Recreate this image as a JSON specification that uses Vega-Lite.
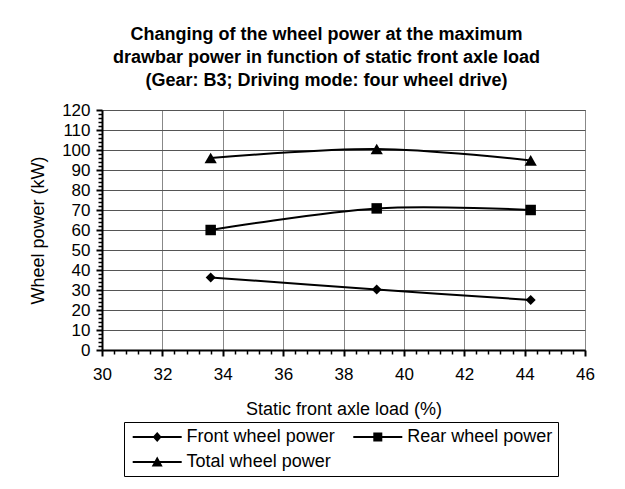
{
  "$schema": "https://vega.github.io/schema/vega-lite/v6.json",
  "width": 483,
  "height": 240,
  "autosize": "none",
  "padding": {"left": 102, "top": 110, "right": 40, "bottom": 139},
  "background": "white",
  "title": {
    "text": ["Changing of the wheel power at the maximum", "drawbar power in function of static front axle load", "(Gear: B3; Driving mode: four wheel drive)"],
    "font": "Liberation Sans",
    "fontSize": 18,
    "fontWeight": "bold",
    "lineHeight": 23,
    "color": "black",
    "anchor": "middle",
    "frame": "group",
    "dx": -17,
    "offset": 11
  },
  "config": {
    "font": "Liberation Sans",
    "view": {"stroke": "#444", "strokeWidth": 1},
    "axis": {"labelColor": "black", "titleColor": "black", "titleFontWeight": "normal", "labelFont": "Liberation Sans", "titleFont": "Liberation Sans"}
  },
  "data": {
    "values": [
      {"series": "Front wheel power", "load": 33.6, "power": 36.3},
      {"series": "Front wheel power", "load": 39.1, "power": 30.2},
      {"series": "Front wheel power", "load": 44.2, "power": 25.0},
      {"series": "Rear wheel power", "load": 33.6, "power": 60.0},
      {"series": "Rear wheel power", "load": 39.1, "power": 70.8},
      {"series": "Rear wheel power", "load": 44.2, "power": 70.0},
      {"series": "Total wheel power", "load": 33.6, "power": 96.0},
      {"series": "Total wheel power", "load": 39.1, "power": 100.5},
      {"series": "Total wheel power", "load": 44.2, "power": 94.8}
    ]
  },
  "encoding": {
    "x": {
      "field": "load",
      "type": "quantitative",
      "scale": {"domain": [30, 46], "nice": false, "zero": false},
      "axis": {
        "title": "Static front axle load (%)",
        "titleFontSize": 18,
        "titlePadding": 18,
        "values": [30, 30.4, 30.8, 31.2, 31.6, 32, 32.4, 32.8, 33.2, 33.6, 34, 34.4, 34.8, 35.2, 35.6, 36, 36.4, 36.8, 37.2, 37.6, 38, 38.4, 38.8, 39.2, 39.6, 40, 40.4, 40.8, 41.2, 41.6, 42, 42.4, 42.8, 43.2, 43.6, 44, 44.4, 44.8, 45.2, 45.6, 46],
        "format": ".0f",
        "labelExpr": "abs(datum.value - round(datum.value/2)*2) < 0.01 ? datum.label : ''",
        "labelOverlap": false,
        "labelFlush": false,
        "labelFontSize": 17,
        "labelPadding": 10,
        "domainColor": "black",
        "domainWidth": 2,
        "tickColor": "black",
        "tickWidth": {"condition": {"test": "abs(datum.value - round(datum.value/2)*2) < 0.01", "value": 2}, "value": 1.5},
        "tickSize": {"condition": {"test": "abs(datum.value - round(datum.value/2)*2) < 0.01", "value": 6}, "value": 4},
        "grid": true,
        "gridColor": "#888",
        "gridWidth": 1,
        "gridOpacity": {"condition": {"test": "abs(datum.value - round(datum.value/2)*2) < 0.01", "value": 1}, "value": 0}
      }
    },
    "y": {
      "field": "power",
      "type": "quantitative",
      "scale": {"domain": [0, 120], "nice": false},
      "axis": {
        "title": "Wheel power (kW)",
        "titleFontSize": 18,
        "titlePadding": 14,
        "values": [0, 2, 4, 6, 8, 10, 12, 14, 16, 18, 20, 22, 24, 26, 28, 30, 32, 34, 36, 38, 40, 42, 44, 46, 48, 50, 52, 54, 56, 58, 60, 62, 64, 66, 68, 70, 72, 74, 76, 78, 80, 82, 84, 86, 88, 90, 92, 94, 96, 98, 100, 102, 104, 106, 108, 110, 112, 114, 116, 118, 120],
        "labelExpr": "datum.value % 10 === 0 ? datum.label : ''",
        "labelOverlap": false,
        "labelFlush": false,
        "labelFontSize": 17,
        "labelPadding": 6,
        "domainColor": "black",
        "domainWidth": 2,
        "tickColor": "black",
        "tickWidth": {"condition": {"test": "datum.value % 10 === 0", "value": 2}, "value": 1.5},
        "tickSize": {"condition": {"test": "datum.value % 10 === 0", "value": 6}, "value": 4},
        "grid": true,
        "gridColor": "#555",
        "gridWidth": 1,
        "gridOpacity": {"condition": {"test": "datum.value % 10 === 0", "value": 1}, "value": 0}
      }
    }
  },
  "layer": [
    {
      "mark": {"type": "line", "color": "black", "strokeWidth": 2, "interpolate": "cardinal", "tension": 0},
      "encoding": {"detail": {"field": "series", "type": "nominal"}}
    },
    {
      "transform": [{"filter": "datum.series === 'Front wheel power'"}],
      "mark": {"type": "point", "filled": true, "color": "black", "opacity": 1, "shape": "diamond", "size": 100},
      "encoding": {}
    },
    {
      "transform": [{"filter": "datum.series === 'Rear wheel power'"}],
      "mark": {"type": "point", "filled": true, "color": "black", "opacity": 1, "shape": "square", "size": 110},
      "encoding": {}
    },
    {
      "transform": [{"filter": "datum.series === 'Total wheel power'"}],
      "mark": {"type": "point", "filled": true, "color": "black", "opacity": 1, "shape": "triangle-up", "size": 150},
      "encoding": {}
    },
    {
      "transform": [{"filter": "false"}],
      "mark": {"type": "point", "filled": true, "color": "black", "opacity": 1, "size": 400},
      "encoding": {
        "shape": {
          "field": "series",
          "type": "nominal",
          "scale": {
            "domain": ["Front wheel power", "Total wheel power", "Rear wheel power"],
            "range": [
              "M-2.45,-0.1L2.45,-0.1L2.45,0.1L-2.45,0.1ZM0,-0.5L0.45,0L0,0.5L-0.45,0Z",
              "M-2.45,-0.1L2.45,-0.1L2.45,0.1L-2.45,0.1ZM0,-0.55L0.55,0.45L-0.55,0.45Z",
              "M-2.45,-0.1L2.45,-0.1L2.45,0.1L-2.45,0.1ZM-0.45,-0.45L0.45,-0.45L0.45,0.45L-0.45,0.45Z"
            ]
          },
          "legend": {
            "title": null,
            "orient": "none",
            "legendX": 22,
            "legendY": 312,
            "columns": 2,
            "columnPadding": 14.6,
            "rowPadding": 6,
            "padding": 5,
            "strokeColor": "black",
            "labelFont": "Liberation Sans",
            "labelFontSize": 18,
            "labelColor": "black",
            "labelOffset": 19.4,
            "labelLimit": 400,
            "symbolSize": 400,
            "symbolOffset": 18.2,
            "symbolStrokeWidth": 0,
            "symbolFillColor": "black",
            "symbolOpacity": 1,
            "encode": {
              "symbols": {
                "update": {
                  "fill": {"value": "black"},
                  "opacity": {"value": 1}
                }
              }
            }
          }
        }
      }
    }
  ]
}
